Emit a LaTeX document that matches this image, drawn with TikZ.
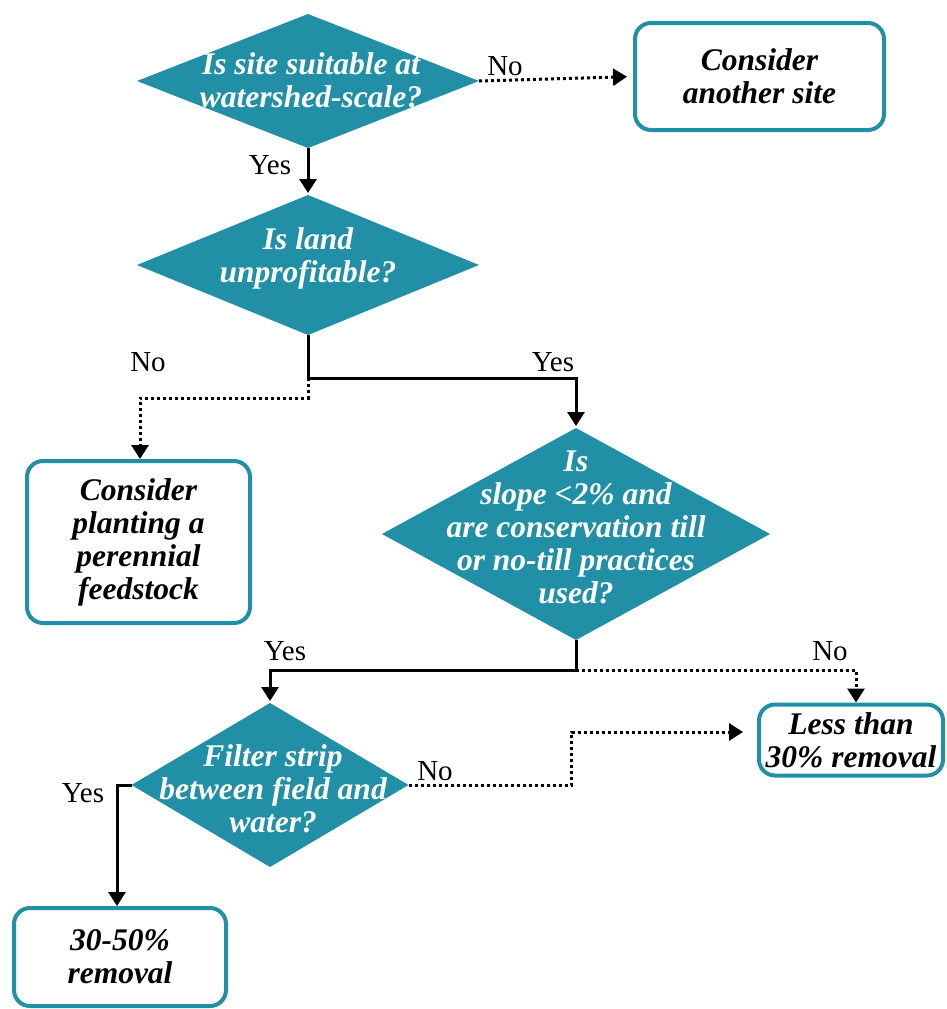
\documentclass[tikz,border=0pt]{standalone}
\usepackage{fontspec}
\setmainfont{Liberation Serif}
\usetikzlibrary{shapes.geometric,arrows.meta}
\definecolor{tealA}{RGB}{33,143,166}
\begin{document}
\begin{tikzpicture}[x=1pt,y=-1pt,
  dec/.style={diamond, fill=tealA, draw=none, inner sep=0pt, outer sep=0pt},
  dtext/.style={text=white, align=center, inner sep=0pt, font=\fontsize{31.5}{33}\selectfont\bfseries\itshape},
  endbox/.style={draw=tealA, line width=4pt, rounded corners=16pt, fill=white, inner sep=0pt, outer sep=0pt, align=center, font=\fontsize{31.5}{33}\selectfont\bfseries\itshape},
  lab/.style={inner sep=0pt, font=\fontsize{29}{30}\selectfont},
  sol/.style={line width=3pt, -{Triangle[width=17pt,length=14pt]}, shorten >=2pt},
  solline/.style={line width=3pt},
  dots/.style={line width=3pt, dash pattern=on 3pt off 3pt, -{Triangle[width=17pt,length=14pt]}, shorten >=2pt},
  dotline/.style={line width=3pt, dash pattern=on 3pt off 3pt}]
\useasboundingbox (0,0) rectangle (946,1009);
\fill[white] (0,0) rectangle (946,1009);

% decisions
\node[dec, minimum width=342pt, minimum height=134pt] (d1) at (308,81) {};
\node[dtext] (t1) at (311,80) {Is site suitable at\\watershed-scale?};
\node[dec, minimum width=342pt, minimum height=140pt] (d2) at (308,265) {};
\node[dtext] (t2) at (308,258) {Is land\\unprofitable?};
\node[dec, minimum width=388pt, minimum height=212pt] (d3) at (576,534) {};
\node[dtext] (t3) at (576,527) {Is\\slope <2\% and\\are conservation till\\or no-till practices\\used?};
\node[dec, minimum width=277pt, minimum height=164pt] (d4) at (270,785) {};
\node[dtext] (t4) at (273,789) {Filter strip\\between field and\\water?};

% outcome boxes
\node[endbox, minimum width=249pt, minimum height=107pt] (b1) at (759.5,76.5) {Consider\\another site};
\node[endbox, minimum width=223pt, minimum height=162pt] (b2) at (138.5,542) {Consider\\planting a\\perennial\\feedstock};
\node[endbox, minimum width=184pt, minimum height=71pt] (b3) at (851,740) {Less than\\30\% removal};
\node[endbox, minimum width=212pt, minimum height=98pt] (b4) at (120,957) {30-50\%\\removal};

% connectors
\draw[sol] (d1.south) -- (d2.north);
\draw[dots, shorten >=8pt] (d1.east) -- (b1.west);

\coordinate (j1) at (308,378);
\draw[solline] (d2.south) -- (j1);
\draw[sol] (j1) -| (d3.north);
\draw[dots] (j1) -- ++(0,20) -| ([xshift=1.5pt]b2.north);

\coordinate (j3) at (576,670);
\draw[solline] (d3.south) -- (j3);
\draw[sol] (j3) -| (d4.north);
\draw[dots] (j3) -| ([xshift=5pt]b3.north);

\draw[dots, shorten >=16pt] (d4.east) -- ++(163,0) |- ([yshift=8pt]b3.west);
\draw[sol] (d4.west) -| ([xshift=-3pt]b4.north);

% labels
\node[lab] (l1) at (270,165) {Yes};
\node[lab] (l2) at (505,66) {No};
\node[lab] (l3) at (148,362) {No};
\node[lab] (l4) at (553,362) {Yes};
\node[lab] (l5) at (285,651) {Yes};
\node[lab] (l6) at (830,651) {No};
\node[lab] (l7) at (435,771) {No};
\node[lab] (l8) at (83,793) {Yes};
\end{tikzpicture}
\end{document}
